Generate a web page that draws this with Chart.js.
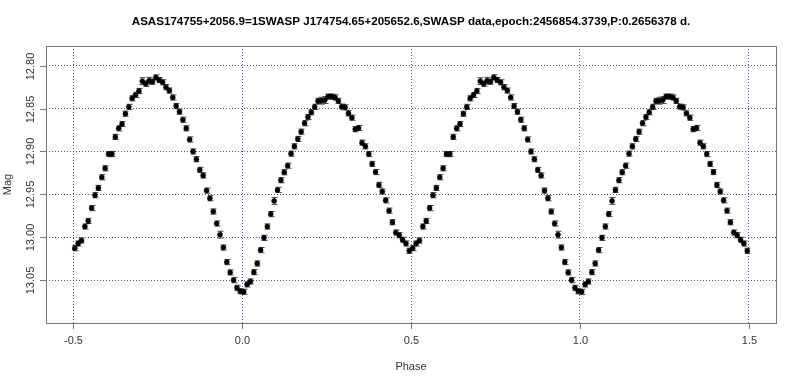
<!DOCTYPE html>
<html>
<head>
<meta charset="utf-8">
<script src="https://cdn.jsdelivr.net/npm/chart.js@4/dist/chart.umd.min.js"></script>
<style>
html,body{margin:0;padding:0;background:#fff;}
#wrap{width:800px;height:381px;position:relative;}
</style>
</head>
<body>
<div id="wrap"><canvas id="c" width="800" height="381"></canvas></div>
<script>
const titleText = "ASAS174755+2056.9=1SWASP J174754.65+205652.6,SWASP data,epoch:2456854.3739,P:0.2656378 d.";
const xLabel = "Phase";
const yLabel = "Mag";
const xTicks = [-0.5, 0.0, 0.5, 1.0, 1.5];
const yTicks = [12.80, 12.85, 12.90, 12.95, 13.00, 13.05];

const phase = [
-0.495,-0.485,-0.475,-0.465,-0.455,-0.445,-0.435,-0.425,-0.415,-0.405,
-0.395,-0.385,-0.375,-0.365,-0.355,-0.345,-0.335,-0.325,-0.315,-0.305,
-0.295,-0.285,-0.275,-0.265,-0.255,-0.245,-0.235,-0.225,-0.215,-0.205,
-0.195,-0.185,-0.175,-0.165,-0.155,-0.145,-0.135,-0.125,-0.115,-0.105,
-0.095,-0.085,-0.075,-0.065,-0.055,-0.045,-0.035,-0.025,-0.015,-0.005,
0.005,0.015,0.025,0.035,0.045,0.055,0.065,0.075,0.085,0.095,
0.105,0.115,0.125,0.135,0.145,0.155,0.165,0.175,0.185,0.195,
0.205,0.215,0.225,0.235,0.245,0.255,0.265,0.275,0.285,0.295,
0.305,0.315,0.325,0.335,0.345,0.355,0.365,0.375,0.385,0.395,
0.405,0.415,0.425,0.435,0.445,0.455,0.465,0.475,0.485,0.495
];
const mag = [
13.0127,13.0073,13.0038,12.9875,12.9810,12.9660,12.9510,12.9425,12.9300,12.9196,
12.9030,12.9030,12.8830,12.8730,12.8680,12.8560,12.8480,12.8380,12.8340,12.8295,
12.8180,12.8210,12.8175,12.8186,12.8136,12.8167,12.8194,12.8250,12.8290,12.8370,
12.8470,12.8536,12.8630,12.8730,12.8860,12.9000,12.9090,12.9215,12.9280,12.9456,
12.9545,12.9700,12.9840,12.9970,13.0120,13.0290,13.0410,13.0500,13.0590,13.0630,
13.0636,13.0550,13.0516,13.0407,13.0306,13.0150,13.0007,12.9875,12.9730,12.9576,
12.9448,12.9335,12.9242,12.9165,12.9025,12.8940,12.8854,12.8769,12.8670,12.8598,
12.8543,12.8480,12.8410,12.8408,12.8400,12.8360,12.8360,12.8370,12.8410,12.8477,
12.8485,12.8555,12.8606,12.8740,12.8726,12.8897,12.8940,12.9030,12.9145,12.9240,
12.9390,12.9467,12.9570,12.9690,12.9825,12.9945,12.9976,13.0030,13.0073,13.0158
];
const magErr = [
0.003,0.003,0.003,0.003,0.003,0.003,0.003,0.003,0.003,0.003,
0.003,0.003,0.003,0.003,0.003,0.003,0.003,0.003,0.003,0.003,
0.004,0.003,0.004,0.003,0.003,0.003,0.003,0.003,0.003,0.003,
0.003,0.003,0.003,0.003,0.003,0.003,0.003,0.003,0.003,0.003,
0.003,0.003,0.003,0.004,0.003,0.003,0.003,0.003,0.003,0.003,
0.003,0.003,0.003,0.003,0.003,0.003,0.003,0.003,0.003,0.004,
0.003,0.003,0.003,0.003,0.003,0.003,0.003,0.003,0.003,0.003,
0.003,0.003,0.003,0.004,0.004,0.003,0.003,0.003,0.003,0.003,
0.003,0.003,0.003,0.003,0.003,0.003,0.003,0.003,0.003,0.003,
0.003,0.003,0.003,0.003,0.003,0.003,0.003,0.003,0.003,0.003
];

// phase-folded curve plotted twice (phase and phase+1), as in the original
const points = [];
const errs = [];
for (let k = 0; k < 2; k++) {
  for (let i = 0; i < phase.length; i++) {
    points.push({x: phase[i] + k, y: mag[i]});
    errs.push(magErr[i]);
  }
}

const FONT = '"Liberation Sans", Arial, sans-serif';
const AXCOL = '#777777';
const TXTCOL = '#333333';

const frame = {
  id: 'frame',
  beforeDatasetsDraw(chart) {
    const ctx = chart.ctx, xs = chart.scales.x, ys = chart.scales.y;
    ctx.save();
    ctx.strokeStyle = '#444444';
    ctx.lineWidth = 1;
    const ds = chart.data.datasets[0].data;
    for (let i = 0; i < ds.length; i++) {
      const px = Math.round(xs.getPixelForValue(ds[i].x)) + 0.5;
      const y1 = ys.getPixelForValue(ds[i].y - errs[i]);
      const y2 = ys.getPixelForValue(ds[i].y + errs[i]);
      ctx.beginPath();
      ctx.moveTo(px, y1); ctx.lineTo(px, y2);
      ctx.moveTo(px - 3, y1); ctx.lineTo(px + 3, y1);
      ctx.moveTo(px - 3, y2); ctx.lineTo(px + 3, y2);
      ctx.stroke();
    }
    ctx.restore();
  },
  afterDraw(chart) {
    const ctx = chart.ctx, a = chart.chartArea, xs = chart.scales.x, ys = chart.scales.y;
    ctx.save();
    ctx.strokeStyle = AXCOL;
    ctx.lineWidth = 1;
    ctx.strokeRect(Math.round(a.left) + 0.5, Math.round(a.top) + 0.5,
                   Math.round(a.right - a.left), Math.round(a.bottom - a.top));
    ctx.fillStyle = TXTCOL;
    ctx.font = '11px ' + FONT;
    ctx.textAlign = 'center'; ctx.textBaseline = 'middle';
    xTicks.forEach(v => {
      const px = Math.round(xs.getPixelForValue(v)) + 0.5;
      ctx.beginPath(); ctx.moveTo(px, a.bottom); ctx.lineTo(px, a.bottom + 6); ctx.stroke();
      ctx.fillText(v.toFixed(1), px, a.bottom + 18);
    });
    yTicks.forEach(v => {
      const py = Math.round(ys.getPixelForValue(v)) + 0.5;
      ctx.beginPath(); ctx.moveTo(a.left - 6, py); ctx.lineTo(a.left, py); ctx.stroke();
      ctx.save();
      ctx.translate(a.left - 15, py);
      ctx.rotate(-Math.PI / 2);
      ctx.fillText(v.toFixed(2), 0, 0);
      ctx.restore();
    });
    ctx.fillText(xLabel, (a.left + a.right) / 2, a.bottom + 44);
    ctx.save();
    ctx.translate(8, (a.top + a.bottom) / 2);
    ctx.rotate(-Math.PI / 2);
    ctx.fillText(yLabel, 0, 0);
    ctx.restore();
    ctx.fillStyle = '#000';
    ctx.font = 'bold 11.6px ' + FONT;
    ctx.fillText(titleText, (a.left + a.right) / 2, 22);
    ctx.restore();
  }
};

new Chart(document.getElementById('c'), {
  type: 'scatter',
  data: {
    datasets: [{
      data: points,
      pointRadius: 2.5,
      pointHoverRadius: 2.5,
      pointBackgroundColor: '#000000',
      pointBorderColor: '#000000',
      pointBorderWidth: 0.5
    }]
  },
  options: {
    responsive: false,
    animation: false,
    events: [],
    layout: {padding: {left: 46, right: 24, top: 46, bottom: 58}},
    plugins: {legend: {display: false}, tooltip: {enabled: false}, title: {display: false}},
    scales: {
      x: {
        type: 'linear', min: -0.58, max: 1.58,
        afterBuildTicks: s => { s.ticks = xTicks.map(v => ({value: v})); },
        ticks: {display: false},
        grid: {color: 'rgba(30,30,170,0.8)', lineWidth: 1, drawTicks: false},
        border: {display: false, dash: [1, 2]}
      },
      y: {
        type: 'linear', reverse: true, min: 12.777, max: 13.100,
        afterBuildTicks: s => { s.ticks = yTicks.map(v => ({value: v})); },
        ticks: {display: false},
        grid: {color: 'rgba(30,30,170,0.8)', lineWidth: 1, drawTicks: false},
        border: {display: false, dash: [1, 2]}
      }
    }
  },
  plugins: [frame]
});
</script>
</body>
</html>
